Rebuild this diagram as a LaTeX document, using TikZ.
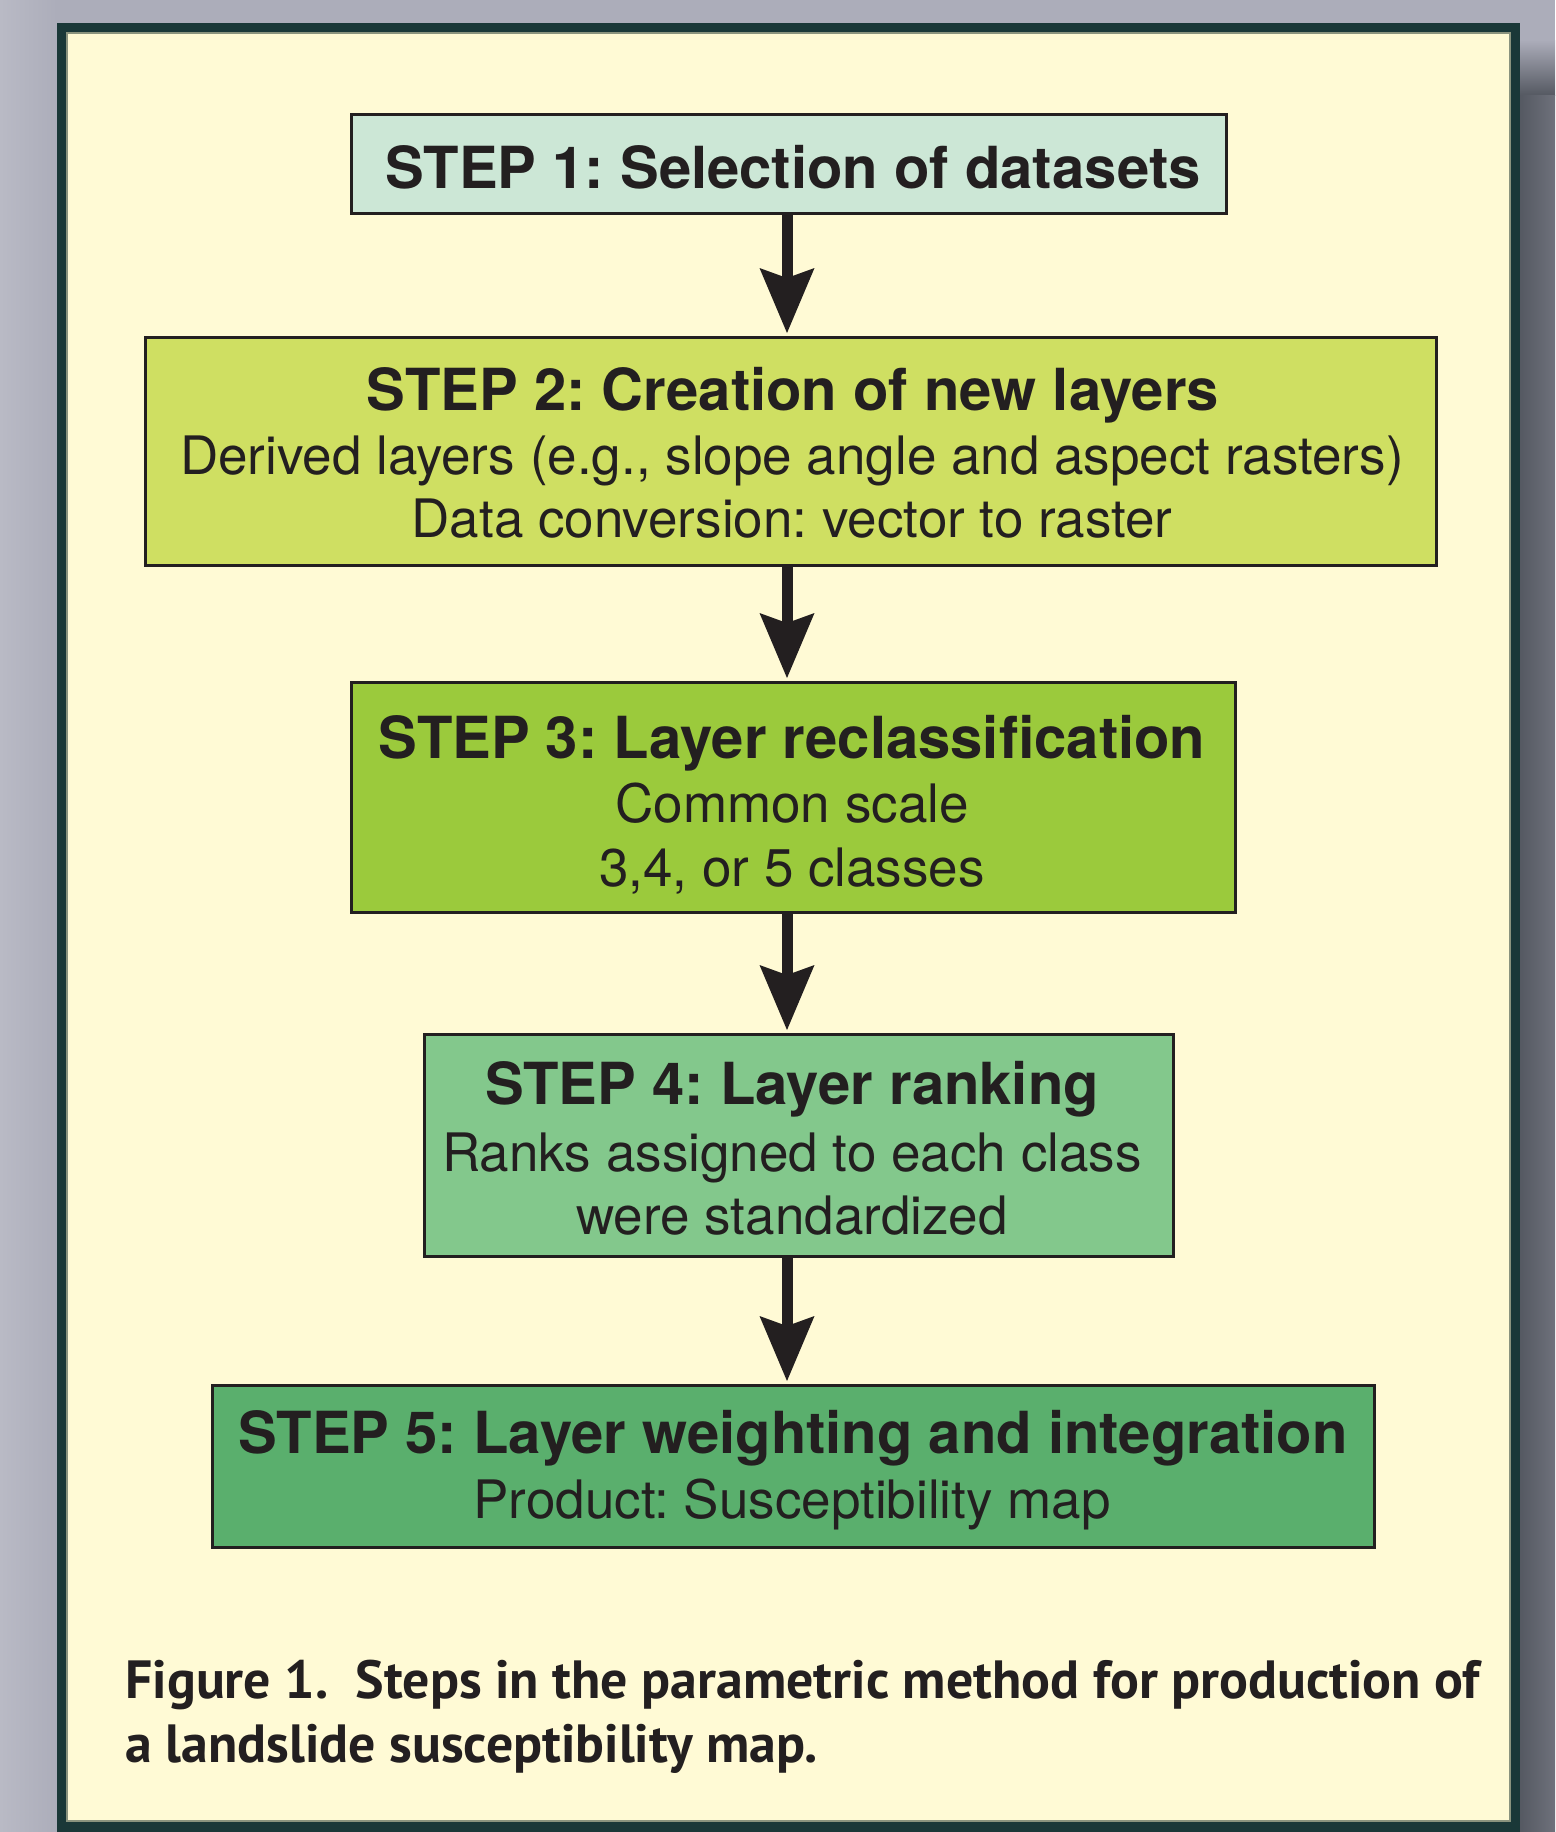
\documentclass[tikz,border=0pt]{standalone}
\usepackage{fontspec}
\setsansfont{TeX Gyre Heros}
\newfontfamily\capfont[Numbers=OldStyle]{PT Sans}
\usetikzlibrary{arrows.meta}
\frenchspacing

\definecolor{backdrop}{HTML}{ACADBA}
\definecolor{backlight}{HTML}{B9BAC5}
\definecolor{shadowdark}{HTML}{555962}
\definecolor{shadowlight}{HTML}{6E717B}
\definecolor{frame}{HTML}{1A3838}
\definecolor{frameedge}{HTML}{8A937E}
\definecolor{paper}{HTML}{FFFAD5}
\definecolor{ink}{HTML}{231F20}
\definecolor{stepA}{HTML}{CCE7D6}
\definecolor{stepB}{HTML}{CFDF62}
\definecolor{stepC}{HTML}{9BCA3C}
\definecolor{stepD}{HTML}{83C88C}
\definecolor{stepE}{HTML}{5AAF6D}

\tikzset{
  stepbox/.style={draw=ink, line width=1.5pt, inner sep=0pt, outer sep=0pt, rectangle},
  titleline/.style={font=\sffamily\bfseries\fontsize{29pt}{34pt}\selectfont, text=ink, inner sep=0pt, anchor=base},
  bodyline/.style={font=\sffamily\fontsize{26.5pt}{32pt}\selectfont, text=ink, inner sep=0pt, anchor=base},
  captionline/.style={font=\capfont\bfseries\fontsize{26.9pt}{32pt}\selectfont, text=ink, inner sep=0pt, anchor=base west},
  flow/.style={draw=ink, line width=5.5pt, shorten >=2.25pt,
    -{Stealth[length=32.5pt, width=27.5pt, inset=5pt, line width=0pt]}},
}

\begin{document}
\begin{tikzpicture}[x=0.5pt, y=-0.5pt]
\useasboundingbox (0,0) rectangle (1555,1832);

% mottled backdrop
\fill[backdrop] (0,0) rectangle (1555,1832);
\fill[left color=backlight, right color=backdrop] (0,0) rectangle (57,1832);
% drop shadow on the right of the frame
\fill[top color=backdrop, bottom color=shadowdark] (1520,40) rectangle (1555,95);
\fill[left color=shadowdark, right color=shadowlight] (1520,95) rectangle (1555,1832);

% framed panel
\fill[frame] (57,23) rectangle (1520,1832);
\fill[paper] (67,33) rectangle (1510,1821);
\draw[frameedge, line width=0.6pt] (67,33) rectangle (1510,1821);

% step boxes
\node[stepbox, fill=stepA, minimum width=437.5pt, minimum height=49.5pt] (s1) at (789,164) {};
\node[stepbox, fill=stepB, minimum width=645.5pt, minimum height=114pt] (s2) at (791,451.5) {};
\node[stepbox, fill=stepC, minimum width=442pt, minimum height=115pt] (s3) at (793.5,797.5) {};
\node[stepbox, fill=stepD, minimum width=374.5pt, minimum height=111pt] (s4) at (799,1145.5) {};
\node[stepbox, fill=stepE, minimum width=581pt, minimum height=81pt] (s5) at (793.5,1466.5) {};

% box texts
\node[titleline] (t1) at (793,188) {STEP 1: Selection of datasets};

\node[titleline] (t2a) at (793,410) {STEP 2: Creation of new layers};
\node[bodyline] (t2b) at (792,474) {Derived layers (e.g., slope angle and aspect rasters)};
\node[bodyline] (t2c) at (792,537) {Data conversion: vector to raster};

\node[titleline] (t3a) at (792,758) {STEP 3: Layer reclassification};
\node[bodyline] (t3b) at (792,822) {Common scale};
\node[bodyline] (t3c) at (792,886) {3,4, or 5 classes};

\node[titleline] (t4a) at (792,1104) {STEP 4: Layer ranking};
\node[bodyline] (t4b) at (792,1171) {Ranks assigned to each class};
\node[bodyline] (t4c) at (792,1234) {were standardized};

\node[titleline] (t5a) at (793,1453) {STEP 5: Layer weighting and integration};
\node[bodyline] (t5b) at (792,1518) {Product: Susceptibility map};

% connectors down the common axis
\coordinate (axis) at (787,0);
\draw[flow] (s1.south -| axis) -- (s2.north -| axis);
\draw[flow] (s2.south -| axis) -- (s3.north -| axis);
\draw[flow] (s3.south -| axis) -- (s4.north -| axis);
\draw[flow] (s4.south -| axis) -- (s5.north -| axis);

% caption
\node[captionline] (c1) at (125,1698) {Figure 1.\ \ Steps in the parametric method for production of};
\node[captionline] (c2) at (125,1762) {a landslide susceptibility map.};
\end{tikzpicture}
\end{document}
